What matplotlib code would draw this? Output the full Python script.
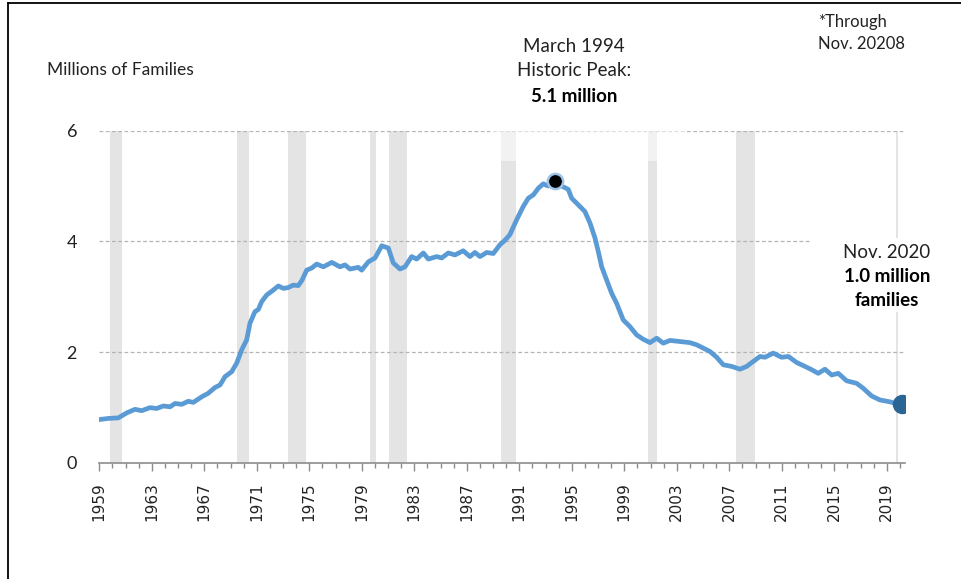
import numpy as np
import matplotlib
matplotlib.use("Agg")
from matplotlib import pyplot as plt
from matplotlib.patches import Rectangle
from matplotlib.lines import Line2D

# data (x = position on the year axis)
years = [1959.00, 1959.69, 1960.45, 1961.09, 1961.72, 1962.23, 1962.86, 1963.37,
         1963.88, 1964.39, 1964.77, 1965.28, 1965.78, 1966.16, 1966.80, 1967.30,
         1967.82, 1968.20, 1968.58, 1969.09, 1969.47, 1969.85, 1970.23, 1970.48,
         1970.86, 1971.12, 1971.37, 1971.75, 1972.26, 1972.64, 1973.02, 1973.40,
         1973.78, 1974.16, 1974.45, 1974.80, 1975.20, 1975.56, 1976.07, 1976.71,
         1977.34, 1977.72, 1978.10, 1978.73, 1978.99, 1979.50, 1980.01, 1980.52,
         1981.02, 1981.40, 1981.91, 1982.29, 1982.80, 1983.18, 1983.69, 1984.07,
         1984.71, 1985.09, 1985.59, 1986.10, 1986.73, 1987.24, 1987.62, 1988.01,
         1988.52, 1989.02, 1989.53, 1989.91, 1990.28, 1990.80, 1991.30, 1991.69,
         1992.07, 1992.45, 1992.83, 1993.21, 1993.72, 1994.23, 1994.73, 1994.99,
         1995.50, 1996.00, 1996.39, 1996.77, 1997.02, 1997.28, 1997.66, 1998.04,
         1998.42, 1998.92, 1999.43, 1999.94, 2000.45, 2000.96, 2001.47, 2001.97,
         2002.48, 2003.24, 2004.00, 2004.52, 2005.02, 2005.53, 2006.04, 2006.54,
         2007.18, 2007.82, 2008.32, 2008.83, 2009.34, 2009.72, 2010.35, 2010.99,
         2011.50, 2012.14, 2012.77, 2013.28, 2013.78, 2014.29, 2014.80, 2015.31,
         2015.94, 2016.70, 2017.21, 2017.85, 2018.48, 2019.24, 2019.63, 2020.18]
families = [0.78, 0.80, 0.81, 0.90, 0.965, 0.94, 0.995, 0.98,
            1.025, 1.01, 1.07, 1.055, 1.11, 1.09, 1.19, 1.255,
            1.36, 1.405, 1.555, 1.645, 1.80, 2.04, 2.22, 2.52,
            2.73, 2.77, 2.91, 3.03, 3.12, 3.195, 3.15, 3.165,
            3.21, 3.20, 3.30, 3.48, 3.52, 3.59, 3.54, 3.62,
            3.54, 3.575, 3.50, 3.53, 3.48, 3.63, 3.70, 3.92,
            3.88, 3.61, 3.50, 3.54, 3.725, 3.68, 3.79, 3.68,
            3.725, 3.70, 3.79, 3.755, 3.83, 3.725, 3.80, 3.725,
            3.80, 3.78, 3.94, 4.02, 4.12, 4.39, 4.63, 4.78,
            4.84, 4.96, 5.04, 5.00, 5.10, 5.00, 4.94, 4.78,
            4.66, 4.54, 4.33, 4.06, 3.815, 3.54, 3.30, 3.06,
            2.88, 2.58, 2.46, 2.31, 2.23, 2.17, 2.25, 2.16,
            2.21, 2.19, 2.17, 2.13, 2.07, 2.01, 1.905, 1.77,
            1.74, 1.69, 1.74, 1.83, 1.92, 1.905, 1.98, 1.905,
            1.92, 1.81, 1.74, 1.68, 1.615, 1.69, 1.585, 1.615,
            1.48, 1.435, 1.345, 1.205, 1.134, 1.10, 1.075, 1.06]

# recessions (shaded)
rec_start = [1959.82, 1969.49, 1973.38, 1979.63, 1981.08, 1989.58, 2000.78, 2007.51, 2019.70]
rec_end = [1960.71, 1970.43, 1974.73, 1980.08, 1982.42, 1990.73, 2001.47, 2008.96, 2019.82]

tick_years = list(range(1959, 2020, 4))
yticks = [0, 2, 4, 6]

LINE = '#5b9bd5'
FONT = 'Lato'
TXT = '#222222'
W, H = 961, 579

def ftext(px, py, s, **kw):
    # text placed by pixel position (from top-left)
    kw.setdefault('family', FONT)
    kw.setdefault('color', TXT)
    kw.setdefault('va', 'center')
    fig.text(px / W, 1 - py / H, s, **kw)

fig = plt.figure(figsize=(9.61, 5.79), dpi=100)
ax = fig.add_axes([99.3 / W, 1 - 462.7 / H, (905 - 99.3) / W, (462.7 - 130.7) / H])

x = np.array(years)
y = np.array(families)

for a, b in zip(rec_start, rec_end):
    ax.axvspan(a, b, color='#e4e4e4', lw=0, zorder=1)

for v in yticks[1:]:
    ax.axhline(v, color='#b4b4b4', lw=0.9, ls=(0, (3, 2)), zorder=2)

# half-transparent box behind the peak note
ax.add_patch(Rectangle((1988.8, 5.46), 14.95, 0.6, transform=ax.transData,
                       fc='white', ec='none', alpha=0.55, zorder=3, clip_on=False))

ax.plot(x, y, color=LINE, lw=3.4, zorder=4, solid_joinstyle='round')

ipk = int(np.argmax(y))
ax.plot(x[ipk], y[ipk], 'o', ms=11, mfc='black', mec='#9dc3e6', mew=1.8, zorder=5)
ax.plot(x[-1], y[-1], 'o', ms=13, mfc='#2b6594', mec='#2b6594', zorder=5)

ax.set_xlim(1959, 2020.39)
ax.set_ylim(0, 6)

for s in ['top', 'right', 'left']:
    ax.spines[s].set_visible(False)
ax.spines['bottom'].set_color('#8c8c8c')
ax.spines['bottom'].set_linewidth(1.2)

ax.set_xticks(tick_years)
ax.set_xticks(range(1959, 2021), minor=True)
ax.set_xticklabels([str(t) for t in tick_years], rotation=90, fontsize=11,
                   family='DejaVu Sans', color=TXT)
ax.tick_params(axis='x', which='major', length=6, width=1, color='#8c8c8c', pad=8)
ax.tick_params(axis='x', which='minor', length=3.5, width=1, color='#8c8c8c')
ax.set_yticks(yticks)
ax.set_yticklabels([str(v) for v in yticks], fontsize=13, family=FONT, color=TXT)
ax.tick_params(axis='y', length=0, pad=16)

# white box behind the end note
fig.add_artist(Rectangle((810 / W, 1 - 312 / H), 151 / W, 74 / H,
                         transform=fig.transFigure, fc='white', ec='none', zorder=6))

ftext(47, 70, 'Millions of Families', fontsize=12.5, ha='left')
ftext(574, 47, 'March 1994', fontsize=13.5, ha='center')
ftext(574, 71, 'Historic Peak:', fontsize=13.5, ha='center')
ftext(574, 96, '5.1 million', fontsize=13.5, weight='bold', color='black', ha='center')
ftext(818, 22, '*Through', fontsize=12, ha='left')
ftext(818, 44, 'Nov. 20208', fontsize=12, ha='left')
ftext(887, 252, 'Nov. 2020', fontsize=13.5, ha='center', zorder=7)
ftext(887, 277, '1.0 million', fontsize=13.5, weight='bold', color='black', ha='center', zorder=7)
ftext(887, 300, 'families', fontsize=13.5, weight='bold', color='black', ha='center', zorder=7)

# frame lines (top and left)
fig.add_artist(Line2D([8 / W, 1], [1 - 2.5 / H, 1 - 2.5 / H], color='black', lw=1.3))
fig.add_artist(Line2D([8 / W, 8 / W], [0, 1 - 2.5 / H], color='black', lw=1.3))

fig.savefig('out.png', dpi=100)
